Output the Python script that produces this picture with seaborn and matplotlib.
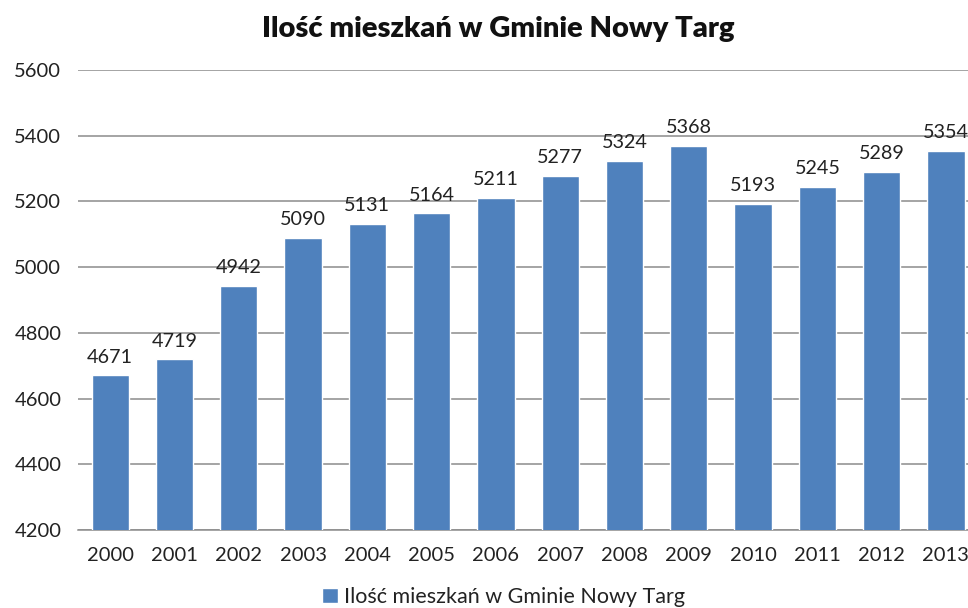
import matplotlib
matplotlib.use('Agg')
import matplotlib.pyplot as plt
import seaborn as sns
import pandas as pd

years = ['2000', '2001', '2002', '2003', '2004', '2005', '2006',
         '2007', '2008', '2009', '2010', '2011', '2012', '2013']
residents = [4671, 4719, 4942, 5090, 5131, 5164, 5211,
             5277, 5324, 5368, 5193, 5245, 5289, 5354]
series_name = 'Ilość mieszkań w Gminie Nowy Targ'
y_ticks = [4200, 4400, 4600, 4800, 5000, 5200, 5400, 5600]

sns.set_theme(style='white')
plt.rcParams['font.family'] = ['Lato', 'DejaVu Sans']

df = pd.DataFrame({'rok': years, 'mieszkancy': residents})

fig = plt.figure(figsize=(9.68, 6.08), dpi=100)
ax = fig.add_axes([0.0806, 0.1283, 0.9298, 0.7566])

sns.barplot(data=df, x='rok', y='mieszkancy', color='#4F81BD',
            saturation=1, width=0.58, ax=ax, label=series_name, zorder=3)

ax.set_ylim(4200, 5600)
ax.set_yticks(y_ticks)
ax.set_xlim(-0.5, len(years) - 0.5)
ax.yaxis.grid(True, color='#8C8C8C', linewidth=1.1, zorder=0)
ax.set_axisbelow(True)
for s in ['left', 'right', 'top']:
    ax.spines[s].set_visible(False)
ax.spines['bottom'].set_color('#8C8C8C')
ax.spines['bottom'].set_linewidth(1.1)
ax.tick_params(axis='y', length=0, pad=12, labelsize=14.5, labelcolor='#222222')
ax.tick_params(axis='x', length=0, pad=12, labelsize=14.5, labelcolor='#222222')
ax.set_xlabel('')
ax.set_ylabel('')

for i, v in enumerate(residents):
    ax.annotate(str(v), xy=(i, v), xytext=(0, 7), textcoords='offset points',
                ha='center', va='bottom', fontsize=14.2, color='#222222')

fig.text(0.515, 0.953, series_name, ha='center', va='center',
         fontsize=21, fontweight='heavy', color='#111111')

if ax.legend_:
    ax.legend_.remove()
handles, labels = ax.get_legend_handles_labels()
fig.legend(handles[:1], labels[:1], loc='center', bbox_to_anchor=(0.52, 0.018),
           frameon=False, fontsize=15.5, handlelength=0.75, handleheight=0.75,
           handletextpad=0.3, labelcolor='#222222')

fig.savefig('out.png', dpi=100)
